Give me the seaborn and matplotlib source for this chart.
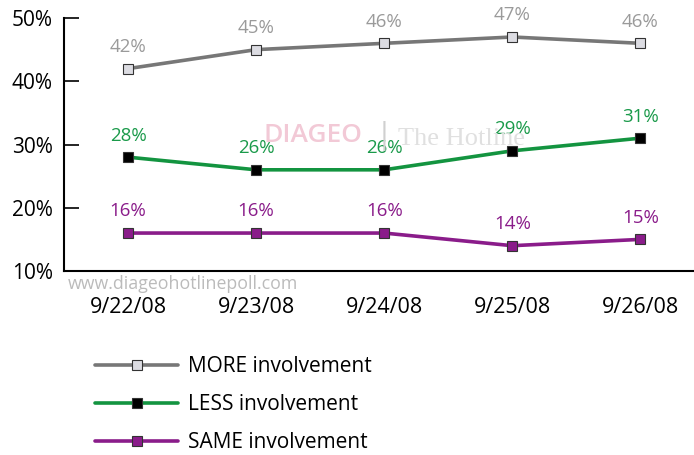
import pandas as pd
import seaborn as sns
import matplotlib.pyplot as plt

dates = ['9/22/08', '9/23/08', '9/24/08', '9/25/08', '9/26/08']
more = [42, 45, 46, 47, 46]
less = [28, 26, 26, 29, 31]
same = [16, 16, 16, 14, 15]
series_names = ['MORE involvement', 'LESS involvement', 'SAME involvement']

df = pd.DataFrame({
    'date': dates * 3,
    'value': more + less + same,
    'series': [series_names[0]] * 5 + [series_names[1]] * 5 + [series_names[2]] * 5,
})

line_colors = {'MORE involvement': '#777777',
               'LESS involvement': '#139440',
               'SAME involvement': '#8a1c8a'}
label_colors = {'MORE involvement': '#9a9a9a',
                'LESS involvement': '#1a9a4a',
                'SAME involvement': '#8a1c8a'}
face_colors = {'MORE involvement': '#dcdce2',
               'LESS involvement': '#000000',
               'SAME involvement': '#8a1c8a'}

sns.set_style('white')
plt.rcParams['font.family'] = ['Open Sans', 'DejaVu Sans']
plt.rcParams['text.color'] = 'black'
plt.rcParams['xtick.color'] = 'black'
plt.rcParams['ytick.color'] = 'black'

fig = plt.figure(figsize=(6.94, 4.55), dpi=100)
ax = fig.add_axes([0.0922, 0.4044, 0.908, 0.556])

for name in series_names:
    sub = df[df['series'] == name]
    sns.lineplot(data=sub, x='date', y='value', ax=ax, color=line_colors[name],
                 linewidth=2.6, marker='s', markersize=7,
                 markerfacecolor=face_colors[name], markeredgecolor='#333333',
                 markeredgewidth=0.8, label=name, legend=False)
    for i, v in enumerate(sub['value']):
        ax.text(i, v + 2.0, f'{v}%', ha='center', va='bottom',
                fontsize=13.5, color=label_colors[name])

ax.set_xlim(-0.5, 4.42)
ax.set_ylim(10, 50)
ax.set_yticks([10, 20, 30, 40, 50])
ax.set_yticklabels([f'{t}%' for t in [10, 20, 30, 40, 50]], fontsize=15)
ax.set_xticks(range(5))
ax.set_xticklabels(dates, fontsize=15.5)
ax.set_xticks([0.5, 1.5, 2.5, 3.5], minor=True)
ax.tick_params(axis='x', which='major', length=0, pad=19)
ax.tick_params(axis='x', which='minor', direction='in', length=6, width=1.2, color='black')
ax.tick_params(axis='y', direction='in', length=11, width=1.2, color='black', pad=8, left=True)
ax.set_xlabel('')
ax.set_ylabel('')
for side in ['top', 'right']:
    ax.spines[side].set_visible(False)
for side in ['left', 'bottom']:
    ax.spines[side].set_color('black')
    ax.spines[side].set_linewidth(1.5)

# watermark
fig.text(0.379, 0.702, 'DIAGEO', fontsize=19, color='#f2c9d6', ha='left', va='center',
         fontweight='semibold')
fig.text(0.553, 0.702, '|', fontsize=22, color='#d0d0d0', ha='center', va='center')
fig.text(0.574, 0.695, 'The Hotline', fontsize=19, color='#e0e0e0', ha='left', va='center',
         family=['Liberation Serif', 'DejaVu Serif'])
fig.text(0.097, 0.376, 'www.diageohotlinepoll.com', fontsize=12.8, color='#bbbbbb',
         ha='left', va='center')

handles, labels = ax.get_legend_handles_labels()
fig.legend(handles, labels, loc='upper left', bbox_to_anchor=(0.137, 0.218),
           frameon=False, fontsize=15, handlelength=4.0, handletextpad=0.45,
           labelspacing=0.82, borderpad=0, borderaxespad=0)

fig.savefig('out.png', dpi=100)
